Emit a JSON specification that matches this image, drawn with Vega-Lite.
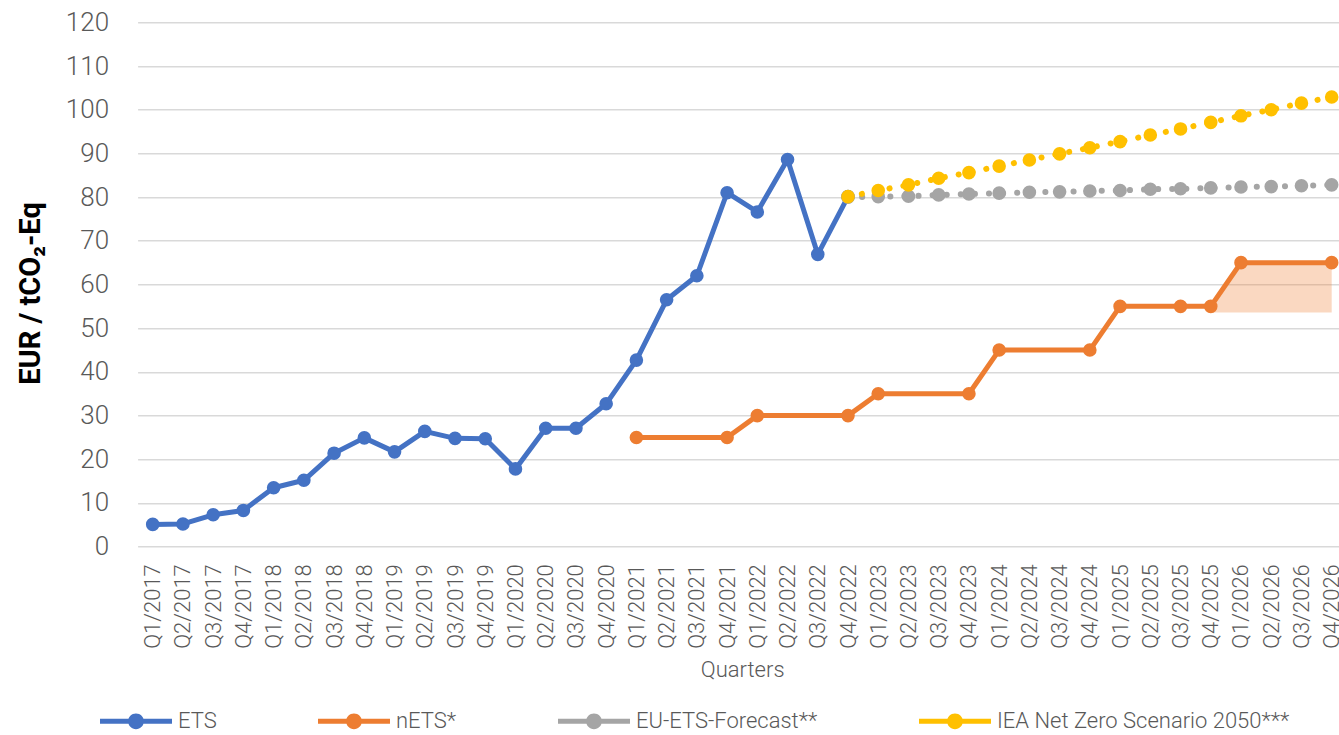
{
  "$schema": "https://vega.github.io/schema/vega-lite/v6.json",
  "width": 1209.2,
  "height": 524.4,
  "autosize": "none",
  "padding": {"left": 137.6, "top": 22.3, "right": 0, "bottom": 188.3},
  "background": "white",
  "config": {
    "font": "Roboto",
    "view": {"stroke": null}
  },
  "datasets": {
    "prices": [
      {"q": "Q1/2017", "series": "ETS", "value": 5.1},
      {"q": "Q2/2017", "series": "ETS", "value": 5.2},
      {"q": "Q3/2017", "series": "ETS", "value": 7.3},
      {"q": "Q4/2017", "series": "ETS", "value": 8.3},
      {"q": "Q1/2018", "series": "ETS", "value": 13.5},
      {"q": "Q2/2018", "series": "ETS", "value": 15.2},
      {"q": "Q3/2018", "series": "ETS", "value": 21.4},
      {"q": "Q4/2018", "series": "ETS", "value": 24.9},
      {"q": "Q1/2019", "series": "ETS", "value": 21.7},
      {"q": "Q2/2019", "series": "ETS", "value": 26.4},
      {"q": "Q3/2019", "series": "ETS", "value": 24.8},
      {"q": "Q4/2019", "series": "ETS", "value": 24.7},
      {"q": "Q1/2020", "series": "ETS", "value": 17.8},
      {"q": "Q2/2020", "series": "ETS", "value": 27.1},
      {"q": "Q3/2020", "series": "ETS", "value": 27.1},
      {"q": "Q4/2020", "series": "ETS", "value": 32.7},
      {"q": "Q1/2021", "series": "ETS", "value": 42.7},
      {"q": "Q2/2021", "series": "ETS", "value": 56.5},
      {"q": "Q3/2021", "series": "ETS", "value": 62.0},
      {"q": "Q4/2021", "series": "ETS", "value": 81.0},
      {"q": "Q1/2022", "series": "ETS", "value": 76.6},
      {"q": "Q2/2022", "series": "ETS", "value": 88.6},
      {"q": "Q3/2022", "series": "ETS", "value": 66.9},
      {"q": "Q4/2022", "series": "ETS", "value": 80.1},
      {"q": "Q1/2021", "series": "nETS*", "value": 25},
      {"q": "Q4/2021", "series": "nETS*", "value": 25},
      {"q": "Q1/2022", "series": "nETS*", "value": 30},
      {"q": "Q4/2022", "series": "nETS*", "value": 30},
      {"q": "Q1/2023", "series": "nETS*", "value": 35},
      {"q": "Q4/2023", "series": "nETS*", "value": 35},
      {"q": "Q1/2024", "series": "nETS*", "value": 45},
      {"q": "Q4/2024", "series": "nETS*", "value": 45},
      {"q": "Q1/2025", "series": "nETS*", "value": 55},
      {"q": "Q3/2025", "series": "nETS*", "value": 55},
      {"q": "Q4/2025", "series": "nETS*", "value": 55},
      {"q": "Q1/2026", "series": "nETS*", "value": 65},
      {"q": "Q4/2026", "series": "nETS*", "value": 65},
      {"q": "Q4/2022", "series": "EU-ETS-Forecast**", "value": 80.0},
      {"q": "Q1/2023", "series": "EU-ETS-Forecast**", "value": 80.1},
      {"q": "Q2/2023", "series": "EU-ETS-Forecast**", "value": 80.2},
      {"q": "Q3/2023", "series": "EU-ETS-Forecast**", "value": 80.5},
      {"q": "Q4/2023", "series": "EU-ETS-Forecast**", "value": 80.7},
      {"q": "Q1/2024", "series": "EU-ETS-Forecast**", "value": 80.9},
      {"q": "Q2/2024", "series": "EU-ETS-Forecast**", "value": 81.1},
      {"q": "Q3/2024", "series": "EU-ETS-Forecast**", "value": 81.2},
      {"q": "Q4/2024", "series": "EU-ETS-Forecast**", "value": 81.4},
      {"q": "Q1/2025", "series": "EU-ETS-Forecast**", "value": 81.5},
      {"q": "Q2/2025", "series": "EU-ETS-Forecast**", "value": 81.8},
      {"q": "Q3/2025", "series": "EU-ETS-Forecast**", "value": 81.9},
      {"q": "Q4/2025", "series": "EU-ETS-Forecast**", "value": 82.1},
      {"q": "Q1/2026", "series": "EU-ETS-Forecast**", "value": 82.3},
      {"q": "Q2/2026", "series": "EU-ETS-Forecast**", "value": 82.4},
      {"q": "Q3/2026", "series": "EU-ETS-Forecast**", "value": 82.6},
      {"q": "Q4/2026", "series": "EU-ETS-Forecast**", "value": 82.8},
      {"q": "Q4/2022", "series": "IEA Net Zero Scenario 2050***", "value": 80.1},
      {"q": "Q1/2023", "series": "IEA Net Zero Scenario 2050***", "value": 81.5},
      {"q": "Q2/2023", "series": "IEA Net Zero Scenario 2050***", "value": 82.8},
      {"q": "Q3/2023", "series": "IEA Net Zero Scenario 2050***", "value": 84.3},
      {"q": "Q4/2023", "series": "IEA Net Zero Scenario 2050***", "value": 85.6},
      {"q": "Q1/2024", "series": "IEA Net Zero Scenario 2050***", "value": 87.1},
      {"q": "Q2/2024", "series": "IEA Net Zero Scenario 2050***", "value": 88.5},
      {"q": "Q3/2024", "series": "IEA Net Zero Scenario 2050***", "value": 89.9},
      {"q": "Q4/2024", "series": "IEA Net Zero Scenario 2050***", "value": 91.3},
      {"q": "Q1/2025", "series": "IEA Net Zero Scenario 2050***", "value": 92.7},
      {"q": "Q2/2025", "series": "IEA Net Zero Scenario 2050***", "value": 94.2},
      {"q": "Q3/2025", "series": "IEA Net Zero Scenario 2050***", "value": 95.6},
      {"q": "Q4/2025", "series": "IEA Net Zero Scenario 2050***", "value": 97.1},
      {"q": "Q1/2026", "series": "IEA Net Zero Scenario 2050***", "value": 98.6},
      {"q": "Q2/2026", "series": "IEA Net Zero Scenario 2050***", "value": 100.0},
      {"q": "Q3/2026", "series": "IEA Net Zero Scenario 2050***", "value": 101.5},
      {"q": "Q4/2026", "series": "IEA Net Zero Scenario 2050***", "value": 102.9}
    ],
    "band": [
      {"q": "Q4/2025", "lo": 53.6, "value": 55},
      {"q": "Q1/2026", "lo": 53.6, "value": 65},
      {"q": "Q2/2026", "lo": 53.6, "value": 65},
      {"q": "Q3/2026", "lo": 53.6, "value": 65},
      {"q": "Q4/2026", "lo": 53.6, "value": 65}
    ]
  },
  "encoding": {
    "x": {
      "field": "q",
      "type": "ordinal",
      "sort": ["Q1/2017","Q2/2017","Q3/2017","Q4/2017","Q1/2018","Q2/2018","Q3/2018","Q4/2018","Q1/2019","Q2/2019","Q3/2019","Q4/2019","Q1/2020","Q2/2020","Q3/2020","Q4/2020","Q1/2021","Q2/2021","Q3/2021","Q4/2021","Q1/2022","Q2/2022","Q3/2022","Q4/2022","Q1/2023","Q2/2023","Q3/2023","Q4/2023","Q1/2024","Q2/2024","Q3/2024","Q4/2024","Q1/2025","Q2/2025","Q3/2025","Q4/2025","Q1/2026","Q2/2026","Q3/2026","Q4/2026"],
      "scale": {"type": "point", "padding": 0.5},
      "axis": {
        "title": "Quarters",
        "titleFontSize": 22,
        "titleFontWeight": 300,
        "titleColor": "#595959",
        "titlePadding": 11,
        "labelAngle": 270,
        "labelFontSize": 22,
        "labelFontWeight": 300,
        "labelColor": "#595959",
        "labelPadding": 17,
        "labelOverlap": false,
        "ticks": false,
        "domain": false,
        "grid": false
      }
    }
  },
  "layer": [
    {
      "data": {"name": "band"},
      "mark": {"type": "area", "color": "#ED7D31", "opacity": 0.3},
      "encoding": {
        "y": {"field": "value", "type": "quantitative", "title": "EUR / tCO₂-Eq"},
        "y2": {"field": "lo"}
      }
    },
    {
      "data": {"name": "prices"},
      "transform": [{"filter": {"field": "series", "oneOf": ["ETS", "nETS*"]}}],
      "mark": {"type": "line", "strokeWidth": 5, "strokeCap": "round", "strokeJoin": "round"},
      "encoding": {
        "y": {"field": "value", "type": "quantitative", "title": "EUR / tCO₂-Eq"},
        "stroke": {
          "field": "series",
          "type": "nominal",
          "legend": null,
          "scale": {"domain": ["nETS*", "ETS", "EU-ETS-Forecast**", "IEA Net Zero Scenario 2050***"], "range": ["#ED7D31", "#4472C4", "#A5A5A5", "#FFC000"]}
        }
      }
    },
    {
      "data": {"name": "prices"},
      "transform": [{"filter": {"field": "series", "oneOf": ["EU-ETS-Forecast**", "IEA Net Zero Scenario 2050***"]}}],
      "mark": {"type": "line", "strokeWidth": 6, "strokeCap": "round", "strokeDash": [0.1, 14]},
      "encoding": {
        "y": {"field": "value", "type": "quantitative", "title": "EUR / tCO₂-Eq"},
        "stroke": {"field": "series", "type": "nominal", "legend": null}
      }
    },
    {
      "data": {"name": "prices"},
      "mark": {"type": "point", "filled": true, "opacity": 1, "size": 185},
      "encoding": {
        "y": {
          "field": "value",
          "type": "quantitative",
          "title": "EUR / tCO₂-Eq",
          "scale": {"domain": [0, 120], "nice": false},
          "axis": {
            "values": [0, 10, 20, 30, 40, 50, 60, 70, 80, 90, 100, 110, 120],
            "labelFontSize": 26,
            "labelFontWeight": 300,
            "labelColor": "#595959",
            "labelPadding": 29,
            "ticks": false,
            "domain": false,
            "gridColor": "#D9D9D9",
            "gridWidth": 1.5,
            "titleFontSize": 29,
            "titleFontWeight": "bold",
            "titleColor": "#000000",
            "titlePadding": 20,
            "titleY": 270.7
          }
        },
        "fill": {
          "field": "series",
          "type": "nominal",
          "scale": {"domain": ["ETS", "nETS*", "EU-ETS-Forecast**", "IEA Net Zero Scenario 2050***"], "range": ["#4472C4", "#ED7D31", "#A5A5A5", "#FFC000"]},
          "legend": {
            "orient": "none",
            "legendX": -37.6,
            "legendY": 663,
            "direction": "horizontal",
            "title": null,
            "labelFontSize": 22,
            "labelFontWeight": 300,
            "labelColor": "#595959",
            "symbolType": "M-1,-0.07H1V0.07H-1Z M-0.22,0A0.22,0.22 0 1,1 0.22,0A0.22,0.22 0 1,1 -0.22,0Z",
            "symbolSize": 5184,
            "symbolStrokeWidth": 0,
            "columnPadding": 101,
            "labelOffset": 6,
            "labelLimit": 500
          }
        }
      }
    }
  ]
}
